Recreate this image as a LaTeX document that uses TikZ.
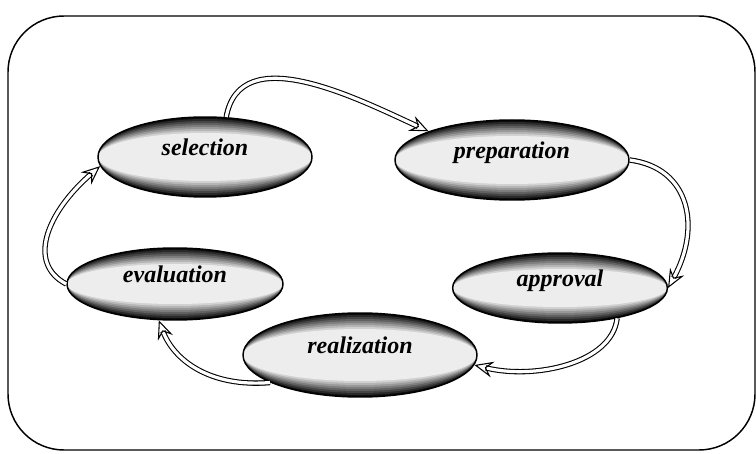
\documentclass[tikz,border=0pt]{standalone}
\usepackage{fontspec}
\setmainfont{Liberation Serif}
\usetikzlibrary{arrows.meta,shapes.geometric,backgrounds}

\begin{document}
\begin{tikzpicture}[x=0.75pt, y=0.75pt, font=\fontsize{18}{20}\selectfont\bfseries\itshape,
    phase/.style={shape=ellipse, draw, line width=1.1pt, inner sep=0pt, text height=11pt, text depth=13pt},
    flow/.style={line width=0.8pt, double=white, double distance=2.4pt, -{Stealth[open, length=14pt, width=12pt, inset=5pt]},
      preaction={draw, arrows=-, line width=3.5pt, dash pattern=on 16pt off 2000pt}}]
    \useasboundingbox (0,0) rectangle (756,453);
    \draw [line width=1.1pt, rounded corners=42pt] (8,3) rectangle (755,437);

    \node (sel) [phase, minimum width=160.5pt, minimum height=60pt] at (205,296) {selection};
    \node (prep) [phase, minimum width=175.5pt, minimum height=60pt] at (512,293) {preparation};
    \node (appr) [phase, minimum width=161pt, minimum height=52.5pt] at (560,165) {approval};
    \node (real) [phase, minimum width=175.5pt, minimum height=63pt] at (360,98) {realization};
    \node (eval) [phase, minimum width=162pt, minimum height=54pt] at (175,169) {evaluation};

    \begin{pgfonlayer}{background}
      \foreach \n/\rx/\ry in {sel/80.25/30, prep/87.75/30, appr/80.5/26.25, real/87.75/31.5, eval/81/27} {
        \foreach \k [evaluate=\k as \g using int(95-11*\k), evaluate=\k as \d using \ry-1.5*\k] in {0,...,8}
          \fill [black!\g] (\n.center) ellipse [x radius=\rx pt, y radius=\d pt];
      }
    \end{pgfonlayer}

    \draw [flow] (sel.62) .. controls +(14,78) and +(-72,33) .. (prep.161);
    \draw [flow] (prep.east) .. controls +(61,-8) and +(33,60) .. (appr.east);
    \draw [flow] (appr.-28) .. controls +(-5,-45) and +(60,-15) .. (real.-5);
    \draw [flow] (real.197) .. controls +(-60,-5) and +(15,-40) .. (eval.-114);
    \draw [flow] (eval.west) .. controls +(-40,21) and +(-53,-46) .. (sel.185);
\end{tikzpicture}
\end{document}
